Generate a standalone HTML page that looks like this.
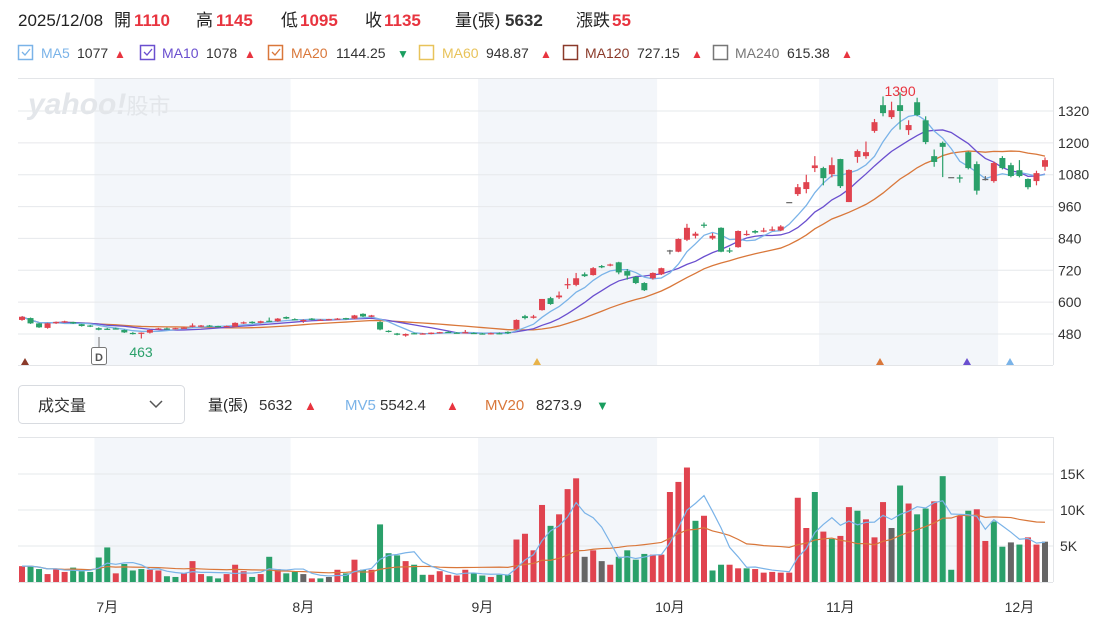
<!DOCTYPE html>
<html><head><meta charset="utf-8">
<style>
html,body{margin:0;padding:0;background:#fff;width:1095px;height:621px;overflow:hidden}
svg{display:block;font-family:"Liberation Sans","Noto Sans CJK TC",sans-serif}
</style></head>
<body>
<svg id="chart" width="1095" height="621" viewBox="0 0 1095 621" xmlns="http://www.w3.org/2000/svg">
  <g font-size="17">
    <text x="18" y="26" fill="#222">2025/12/08</text>
    <text x="114" y="26" fill="#222">開</text><text x="134" y="26" fill="#e8343f" font-weight="bold">1110</text>
    <text x="196" y="26" fill="#222">高</text><text x="216" y="26" fill="#e8343f" font-weight="bold">1145</text>
    <text x="281" y="26" fill="#222">低</text><text x="300" y="26" fill="#e8343f" font-weight="bold">1095</text>
    <text x="365" y="26" fill="#222">收</text><text x="384" y="26" fill="#e8343f" font-weight="bold">1135</text>
    <text x="455" y="26" fill="#222">量(張)</text><text x="505" y="26" fill="#333" font-weight="bold">5632</text>
    <text x="576" y="26" fill="#222">漲跌</text><text x="612" y="26" fill="#e8343f" font-weight="bold">55</text>
  </g>
  <g font-size="14">
    <g><rect x="18.5" y="45.5" width="14" height="14" fill="none" stroke="#7ab3e8" stroke-width="1.5"/><path d="M22 52 l3 3 l5 -6" stroke="#7ab3e8" fill="none" stroke-width="1.3"/><text x="41" y="58" fill="#7ab3e8">MA5</text><text x="77" y="58" fill="#333">1077</text><text x="114" y="58" fill="#e8343f" font-size="12">▲</text></g>
    <g><rect x="140.5" y="45.5" width="14" height="14" fill="none" stroke="#6a4fcf" stroke-width="1.5"/><path d="M144 52 l3 3 l5 -6" stroke="#6a4fcf" fill="none" stroke-width="1.3"/><text x="162" y="58" fill="#6a4fcf">MA10</text><text x="206" y="58" fill="#333">1078</text><text x="244" y="58" fill="#e8343f" font-size="12">▲</text></g>
    <g><rect x="268.5" y="45.5" width="14" height="14" fill="none" stroke="#d9773a" stroke-width="1.5"/><path d="M272 52 l3 3 l5 -6" stroke="#d9773a" fill="none" stroke-width="1.3"/><text x="291" y="58" fill="#d9773a">MA20</text><text x="336" y="58" fill="#333">1144.25</text><text x="397" y="58" fill="#1a9e5f" font-size="12">▼</text></g>
    <g><rect x="419.5" y="45.5" width="14" height="14" fill="none" stroke="#e8c35a" stroke-width="1.5"/><text x="442" y="58" fill="#e8c35a">MA60</text><text x="486" y="58" fill="#333">948.87</text><text x="540" y="58" fill="#e8343f" font-size="12">▲</text></g>
    <g><rect x="563.5" y="45.5" width="14" height="14" fill="none" stroke="#8b3a2a" stroke-width="1.5"/><text x="585" y="58" fill="#8b3a2a">MA120</text><text x="637" y="58" fill="#333">727.15</text><text x="691" y="58" fill="#e8343f" font-size="12">▲</text></g>
    <g><rect x="713.5" y="45.5" width="14" height="14" fill="none" stroke="#777" stroke-width="1.5"/><text x="735" y="58" fill="#777">MA240</text><text x="787" y="58" fill="#333">615.38</text><text x="841" y="58" fill="#e8343f" font-size="12">▲</text></g>
  </g>
  <g id="bands"></g>
  <text x="28" y="114" font-size="30" font-weight="bold" font-style="italic" fill="#e3e6ea">yahoo!<tspan font-size="22" font-style="normal" font-weight="normal">股市</tspan></text>
  <g id="grid"></g>
  <g id="ma"></g>
  <g id="candles"></g>
  <g id="vols"></g>
  <g id="vma"></g>
  <g id="labels"></g>
  <g>
    <rect x="18.5" y="385.5" width="166" height="38" rx="4" fill="#fff" stroke="#d8dbe0"/>
    <text x="38" y="411" font-size="16" fill="#333">成交量</text>
    <path d="M150 401 l6 6 l6 -6" fill="none" stroke="#555" stroke-width="1.5"/>
  </g>
  <g font-size="15">
    <text x="208" y="410" fill="#222">量(張)</text><text x="259" y="410" fill="#333">5632</text><text x="304" y="410" fill="#e8343f" font-size="13">▲</text>
    <text x="345" y="410" fill="#7ab3e8">MV5</text><text x="380" y="410" fill="#333">5542.4</text><text x="446" y="410" fill="#e8343f" font-size="13">▲</text>
    <text x="485" y="410" fill="#d9773a">MV20</text><text x="536" y="410" fill="#333">8273.9</text><text x="596" y="410" fill="#1a9e5f" font-size="13">▼</text>
  </g>
</svg>
<script>
const opens  = [533,540,520,503,521,526,525,517,512,502,500,501,495,484,482,485,498,501,500,503,507,508,512,510,508,508,520,526,522,530,528,544,536,530,538,533,535,535,540,538,556,545,525,492,482,474,483,481,480,483,488,485,485,484,482,481,483,
488,499,547,541,570,615,618,665,665,705,702,736,738,750,717,695,672,690,705,795,790,835,850,892,840,880,795,807,853,868,866,870,870,977,1007,1026,1105,1105,1082,1139,977,1147,1150,1245,1342,1297,1342,1248,1353,1285,1150,1200,1071,1070,1165,1120,1064,1056,1143,1116,1097,1064,1056,1110];
const highs  = [547,542,522,522,527,530,526,518,514,505,503,504,497,487,486,497,503,504,503,506,520,514,514,511,512,524,527,528,530,542,540,546,539,535,540,536,537,540,541,552,558,552,528,494,484,482,485,484,486,488,490,487,495,486,484,485,486,
490,535,552,552,612,620,640,690,710,712,732,740,745,752,725,698,675,712,730,797,840,895,865,900,860,882,805,870,870,872,880,885,890,977,1045,1080,1150,1110,1145,1140,1100,1175,1205,1290,1375,1355,1390,1285,1370,1300,1175,1205,1071,1080,1168,1130,1075,1130,1150,1125,1135,1066,1095,1145];
const lows   = [530,518,503,500,518,522,518,508,506,494,496,497,484,478,463,482,496,498,497,500,505,506,507,505,506,507,518,519,520,526,526,536,532,522,532,530,531,533,534,536,544,543,494,486,475,470,479,478,479,482,484,482,483,480,478,478,479,
480,497,535,538,568,590,612,650,660,695,700,728,735,705,685,668,642,685,702,780,788,830,840,880,835,788,785,805,850,858,863,868,868,977,1000,1010,1090,1040,1070,1030,977,1125,1140,1238,1300,1290,1250,1230,1300,1195,1110,1071,1071,1050,1100,1005,1058,1050,1100,1070,1070,1025,1040,1095];
const closes = [545,520,505,520,525,528,520,510,508,496,499,499,486,482,485,495,501,500,502,504,512,512,509,507,510,522,524,521,528,527,538,538,535,533,534,534,536,538,536,550,546,550,497,488,477,480,481,482,485,487,486,484,487,481,480,483,482,
483,533,540,546,612,593,625,668,690,698,728,731,742,712,700,672,645,710,728,795,838,880,858,888,850,790,792,868,857,862,870,874,885,977,1033,1052,1115,1067,1116,1037,1098,1169,1165,1278,1312,1323,1320,1267,1305,1203,1128,1185,1071,1066,1105,1020,1064,1124,1105,1075,1075,1033,1086,1135];
const volumes = [2.2,2.2,1.8,1.1,1.8,1.4,2.0,1.5,1.4,3.4,4.8,1.2,2.5,1.6,1.8,1.7,1.6,0.8,0.7,1.2,2.9,1.1,0.8,0.5,1.1,2.4,1.5,0.7,1.1,3.5,1.8,1.2,1.4,1.1,0.5,0.5,0.7,1.7,1.2,3.1,1.7,1.7,8.0,4.0,3.7,2.9,2.4,1.0,1.0,1.5,1.0,0.9,1.7,1.2,0.9,0.7,1.0,
1.0,5.9,6.7,4.4,10.7,7.8,9.4,12.9,14.4,3.5,4.4,2.9,2.4,3.5,4.4,3.1,3.9,3.8,3.8,12.5,13.9,15.9,8.5,9.2,1.6,2.4,2.4,1.9,1.9,1.8,1.3,1.4,1.3,1.3,11.7,7.5,12.5,7.0,6.0,6.4,10.4,9.9,8.7,6.2,11.1,7.5,13.4,10.9,9.4,10.2,11.2,14.7,1.7,9.2,9.9,10.1,5.7,8.4,4.9,5.5,5.2,6.2,5.2,5.6];
const volDir = [1,-1,-1,1,1,1,-1,-1,-1,-1,-1,1,-1,-1,-1,1,1,-1,-1,1,1,1,-1,-1,1,1,1,-1,1,-1,1,-1,-1,0,1,-1,0,1,-1,1,-1,1,-1,-1,-1,1,-1,-1,1,1,1,1,1,-1,-1,1,-1,
-1,1,1,1,1,-1,1,1,1,0,1,0,1,-1,-1,-1,-1,1,1,1,1,1,-1,1,-1,-1,1,1,-1,1,1,1,1,1,1,1,-1,1,-1,1,1,-1,1,1,1,0,-1,1,-1,-1,1,-1,-1,1,-1,1,1,-1,-1,0,-1,1,1];
const priceTicks = [480,600,720,840,960,1080,1200,1320];
const volTicks = [5,10,15];
const volTickLabels = ["5K","10K","15K"];
const months = ["7月","8月","9月","10月","11月","12月"];
const monthIdx = [10,33,54,76,96,117];
const bandRanges = [[9,32],[54,75],[94,115]];

const NS="http://www.w3.org/2000/svg";
const X0=22, X1=1045, N=closes.length, NV=volumes.length;
const xAt=i=>X0+i*(X1-X0)/(N-1);
const xV=i=>X0+i*(X1-X0)/(NV-1);
const yP=p=>334-(p-480)*223/840;
const yV=v=>582-v*7.2;
const RED="#e0434f", GREEN="#2aa06a", GRAY="#666";
function el(tag,attrs,parent){const e=document.createElementNS(NS,tag);for(const k in attrs)e.setAttribute(k,attrs[k]);parent.appendChild(e);return e;}
const G=id=>document.getElementById(id);
const step=(X1-X0)/(N-1);

bandRanges.forEach((r,k)=>{
  const b=el('rect',{x:xAt(r[0])-step/2,y:78,width:(r[1]-r[0])*step,height:287,fill:'#f3f6fa'},G('bands'));
  
  
  const b2=el('rect',{x:xAt(r[0])-step/2,y:437,width:(r[1]-r[0])*step,height:145,fill:'#f3f6fa'},G('bands'));
  
  
});
const grid=G('grid');
el('line',{x1:18,x2:1053,y1:78.5,y2:78.5,stroke:'#e3e5e8'},grid);
el('line',{x1:18,x2:1053,y1:365.5,y2:365.5,stroke:'#e3e5e8'},grid);
el('line',{x1:1053.5,x2:1053.5,y1:78,y2:365,stroke:'#e3e5e8'},grid);
priceTicks.forEach(p=>{
  el('line',{x1:18,x2:1053,y1:yP(p),y2:yP(p),stroke:'#e6e8eb'},grid);
  const t=el('text',{x:1058,y:yP(p)+5,'font-size':14,fill:'#333'},grid);
  
  
  t.textContent=p;
});
el('line',{x1:18,x2:1053,y1:437.5,y2:437.5,stroke:'#e3e5e8'},grid);
el('line',{x1:18,x2:1053,y1:582.5,y2:582.5,stroke:'#e3e5e8'},grid);
el('line',{x1:1053.5,x2:1053.5,y1:437,y2:582,stroke:'#e3e5e8'},grid);
volTicks.forEach((v,k)=>{
  el('line',{x1:18,x2:1053,y1:yV(v),y2:yV(v),stroke:'#e6e8eb'},grid);
  const t=el('text',{x:1060,y:yV(v)+5,'font-size':14,fill:'#333'},grid);
  
  
  t.textContent=volTickLabels[k];
});
months.forEach((m,k)=>{
  const t=el('text',{x:xAt(monthIdx[k]),y:612,'font-size':14,fill:'#333','text-anchor':'middle'},grid);
  
  
  t.textContent=m;
});
function ma(arr,n){return arr.map((_,i)=>{const s=Math.max(0,i-n+1);let t=0;for(let j=s;j<=i;j++)t+=arr[j];return t/(i-s+1);});}
[[20,'#d9773a','ma20-line'],[10,'#6a4fcf','ma10-line'],[5,'#7ab3e8','ma5-line']].forEach(([n,c,name])=>{
  const m=ma(closes,n);
  const p=el('polyline',{points:m.map((v,i)=>xAt(i)+','+yP(v)).join(' '),fill:'none',stroke:c,'stroke-width':1.3},G('ma'));
  
  
});
closes.forEach((c,i)=>{
  const o=opens[i],x=xAt(i);
  const col=c>o?RED:(c<o?GREEN:GRAY);
  const g=el('g',{},G('candles'));
  
  
  el('line',{x1:x,x2:x,y1:yP(highs[i]),y2:yP(lows[i]),stroke:col,'stroke-width':1.2},g);
  const top=yP(Math.max(o,c)),bot=yP(Math.min(o,c));
  el('rect',{x:x-3,y:top,width:6,height:Math.max(1.2,bot-top),fill:col},g);
});
volumes.forEach((v,i)=>{
  const col=volDir[i]>0?RED:(volDir[i]<0?GREEN:GRAY);
  const r=el('rect',{x:xV(i)-3,y:yV(v),width:6,height:582-yV(v),fill:col},G('vols'));
  
  
});
[[20,'#d9773a','mv20-line'],[5,'#7ab3e8','mv5-line']].forEach(([n,c,name])=>{
  const m=ma(volumes,n);
  const p=el('polyline',{points:m.map((v,i)=>xV(i)+','+yV(v)).join(' '),fill:'none',stroke:c,'stroke-width':1.2},G('vma'));
  
  
});
const L=G('labels');
let minI=0,maxI=0;lows.forEach((v,i)=>{if(v<lows[minI])minI=i;});highs.forEach((v,i)=>{if(v>highs[maxI])maxI=i;});
const lo=el('text',{x:xAt(minI)-12,y:357,'font-size':14,fill:'#2aa06a'},L);


lo.textContent=lows[minI];
const hi=el('text',{x:xAt(maxI),y:96,'font-size':14,fill:'#e8343f','text-anchor':'middle'},L);


hi.textContent=highs[maxI];
const dg=el('g',{},L);


el('line',{x1:99,x2:99,y1:337,y2:347,stroke:'#777'},dg);
el('rect',{x:91.5,y:347.5,width:15,height:17,rx:2,fill:'#fff',stroke:'#777'},dg);
const dt=el('text',{x:99,y:361,'font-size':11,'font-weight':'bold',fill:'#555','text-anchor':'middle'},dg);
dt.textContent='D';
[[25,'#8b3a2a'],[537,'#e8b34a'],[880,'#d9773a'],[967,'#6a4fcf'],[1010,'#7ab3e8']].forEach(([x,c])=>{
  const t=el('path',{d:`M${x-4} 365 L${x} 358 L${x+4} 365 Z`,fill:c},L);
  
  
});
</script>
</body></html>
